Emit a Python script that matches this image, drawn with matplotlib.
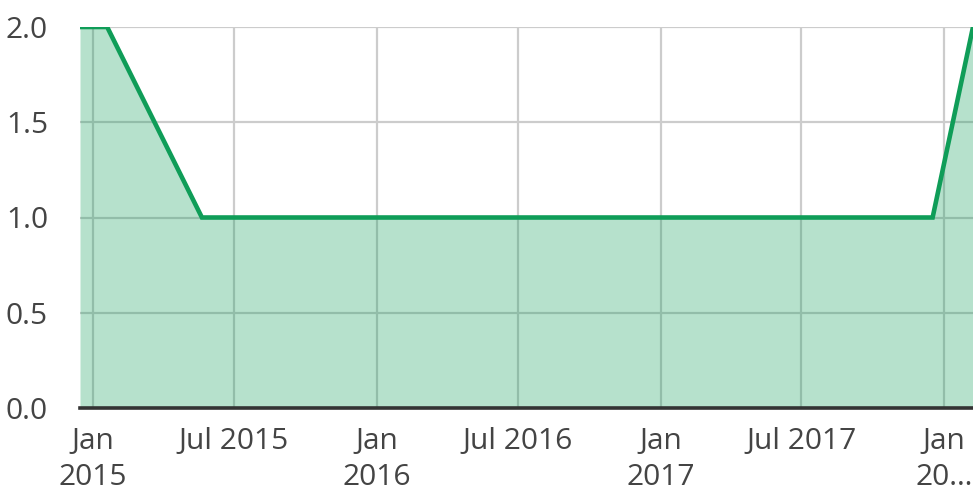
import numpy as np
import pandas as pd
import matplotlib
matplotlib.use("Agg")
import matplotlib.pyplot as plt
import matplotlib.dates as mdates

dates = pd.to_datetime(["2014-12-15", "2015-01-19", "2015-05-21", "2017-12-17", "2018-02-07"])
values = [2, 2, 1, 1, 2]
tick_dates = pd.to_datetime(["2015-01-01", "2015-07-01", "2016-01-01", "2016-07-01",
                             "2017-01-01", "2017-07-01", "2018-01-01"])
tick_labels = ["Jan\n2015", "Jul 2015", "Jan\n2016", "Jul 2016", "Jan\n2017", "Jul 2017", "Jan\n20…"]
yticks = [0.0, 0.5, 1.0, 1.5, 2.0]

GREEN = "#0f9d58"
TXT = "#444444"

plt.rcParams.update({"font.family": ["Open Sans", "DejaVu Sans"], "font.size": 21.5})
fig = plt.figure(figsize=(9.73, 4.95), dpi=100)
ax = fig.add_axes([80 / 973, 1 - 408 / 495, 893 / 973, 381 / 495])

ax.fill_between(dates, values, 0, color=GREEN, alpha=0.3, lw=0, zorder=2)
ax.plot(dates, values, color=GREEN, lw=3.3, solid_joinstyle="miter", zorder=3)
ax.axhline(0, color="#333333", lw=2.6, zorder=4, clip_on=False)

ax.set_xlim(dates[0], dates[-1])
ax.set_ylim(0, 2)
ax.set_xticks(tick_dates)
ax.set_xticklabels(tick_labels, linespacing=1.3)
ax.set_yticks(yticks)
ax.set_yticklabels([f"{v:.1f}" for v in yticks])
ax.tick_params(axis="both", length=0, colors=TXT, labelsize=21.5)
ax.tick_params(axis="x", pad=14)
ax.tick_params(axis="y", pad=23)
ax.grid(True, color="#cccccc", lw=1.6, zorder=1)
ax.set_axisbelow(True)
for sp in ax.spines.values():
    sp.set_visible(False)

fig.savefig("out.png", dpi=100)
